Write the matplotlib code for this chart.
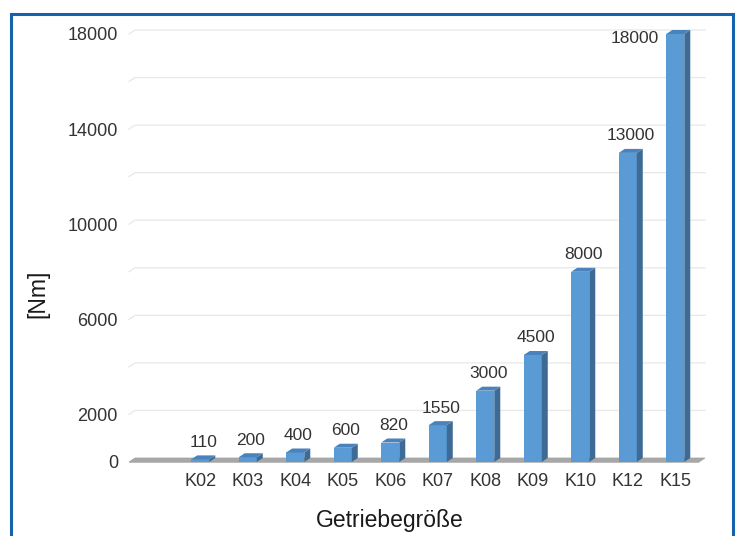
import matplotlib
matplotlib.use("Agg")
import matplotlib.pyplot as plt
from matplotlib.patches import Polygon, Rectangle

categories = ["", "K02", "K03", "K04", "K05", "K06", "K07", "K08", "K09", "K10", "K12", "K15"]
values = [None, 110, 200, 400, 600, 820, 1550, 3000, 4500, 8000, 13000, 18000]
ytick_values = [0, 2000, 6000, 10000, 14000, 18000]
grid_values = [2000, 4000, 6000, 8000, 10000, 12000, 14000, 16000, 18000]

W, H = 742, 536
fig = plt.figure(figsize=(W / 100, H / 100), dpi=100)
fig.patch.set_facecolor("white")

ax_left, ax_right, ax_bottom, ax_top = 129, 705, 462, 34
ax = fig.add_axes([ax_left / W, (H - ax_bottom) / H, (ax_right - ax_left) / W, (ax_bottom - ax_top) / H])
ax.set_facecolor("none")

n = len(categories)
ymax = 18000
slot_px = 47.5
dx = 6 / slot_px
dy = 4 * ymax / (ax_bottom - ax_top)
x0, x1 = -0.5, n - 0.5
ax.set_xlim(x0, x1 + dx)
ax.set_ylim(0, ymax)

# gridlines on back wall with 3D diagonal at left
for g in grid_values:
    ax.plot([x0, x0 + dx, x1 + dx], [g, g + dy, g + dy], color="#e8e8e8", lw=0.9, zorder=1, clip_on=False)

# floor
floor = Polygon([(x0, 0), (x1, 0), (x1 + dx, dy), (x0 + dx, dy)], closed=True,
                facecolor="#a8a8a8", edgecolor="#a0a0a0", lw=0.5, zorder=2, clip_on=False)
ax.add_patch(floor)
ax.add_patch(Polygon([(x0, 0), (x1, 0), (x1, -dy * 0.25), (x0, -dy * 0.25)], closed=True,
                     facecolor="#bdbdbd", edgecolor="none", zorder=2, clip_on=False))

bw = 0.38
front_c = "#5A9BD5"
side_c = "#3D6B96"
top_c = "#4A82BC"
txt_c = "#333333"

vmax = max(x for x in values if x is not None)
for i, v in enumerate(values):
    if v is None:
        continue
    l, r = i - bw / 2, i + bw / 2
    ax.bar(i, v, width=bw, color=front_c, edgecolor="none", zorder=3, clip_on=False)
    ax.add_patch(Polygon([(r, 0), (r + dx, dy), (r + dx, v + dy), (r, v)], closed=True,
                         facecolor=side_c, edgecolor="none", zorder=3, clip_on=False))
    ax.add_patch(Polygon([(l, v), (r, v), (r + dx, v + dy), (l + dx, v + dy)], closed=True,
                         facecolor=top_c, edgecolor="none", zorder=3, clip_on=False))
    if v == vmax:
        ax.annotate(f"{v}", (l, v), xytext=(-5, -3), textcoords="offset points",
                    ha="right", va="center", fontsize=12.5, color=txt_c,
                    family="Liberation Sans", zorder=4)
    else:
        ax.annotate(f"{v}", (i + dx / 2, v + dy), xytext=(0, 4), textcoords="offset points",
                    ha="center", va="bottom", fontsize=12.5, color=txt_c,
                    family="Liberation Sans", zorder=4)

ax.set_xticks(range(n))
ax.set_xticklabels(categories, fontsize=13, color=txt_c, family="Liberation Sans")
ax.set_yticks(ytick_values)
ax.set_yticklabels([str(t) for t in ytick_values], fontsize=13, color=txt_c, family="Liberation Sans")
ax.tick_params(axis="both", length=0)
ax.tick_params(axis="y", pad=8)
ax.tick_params(axis="x", pad=8)
for s in ax.spines.values():
    s.set_visible(False)

narrow = ["Liberation Sans Narrow", "Liberation Sans", "DejaVu Sans"]
fig.text(390 / W, 1 - 520 / H, "Getriebegröße", ha="center", va="center", fontsize=16.5,
         color="#1a1a1a", family=narrow)
fig.text(38 / W, 1 - 294 / H, "[Nm]", ha="center", va="center", rotation=90, fontsize=16.5,
         color="#1a1a1a", family=narrow)

# blue frame
frame = Rectangle((11 / W, -0.02), (733 - 11) / W, (H - 14) / H + 0.02, transform=fig.transFigure,
                  facecolor="none", edgecolor="#1762AE", lw=2.2, zorder=0)
fig.patches.append(frame)

fig.savefig("out.png", dpi=100)
